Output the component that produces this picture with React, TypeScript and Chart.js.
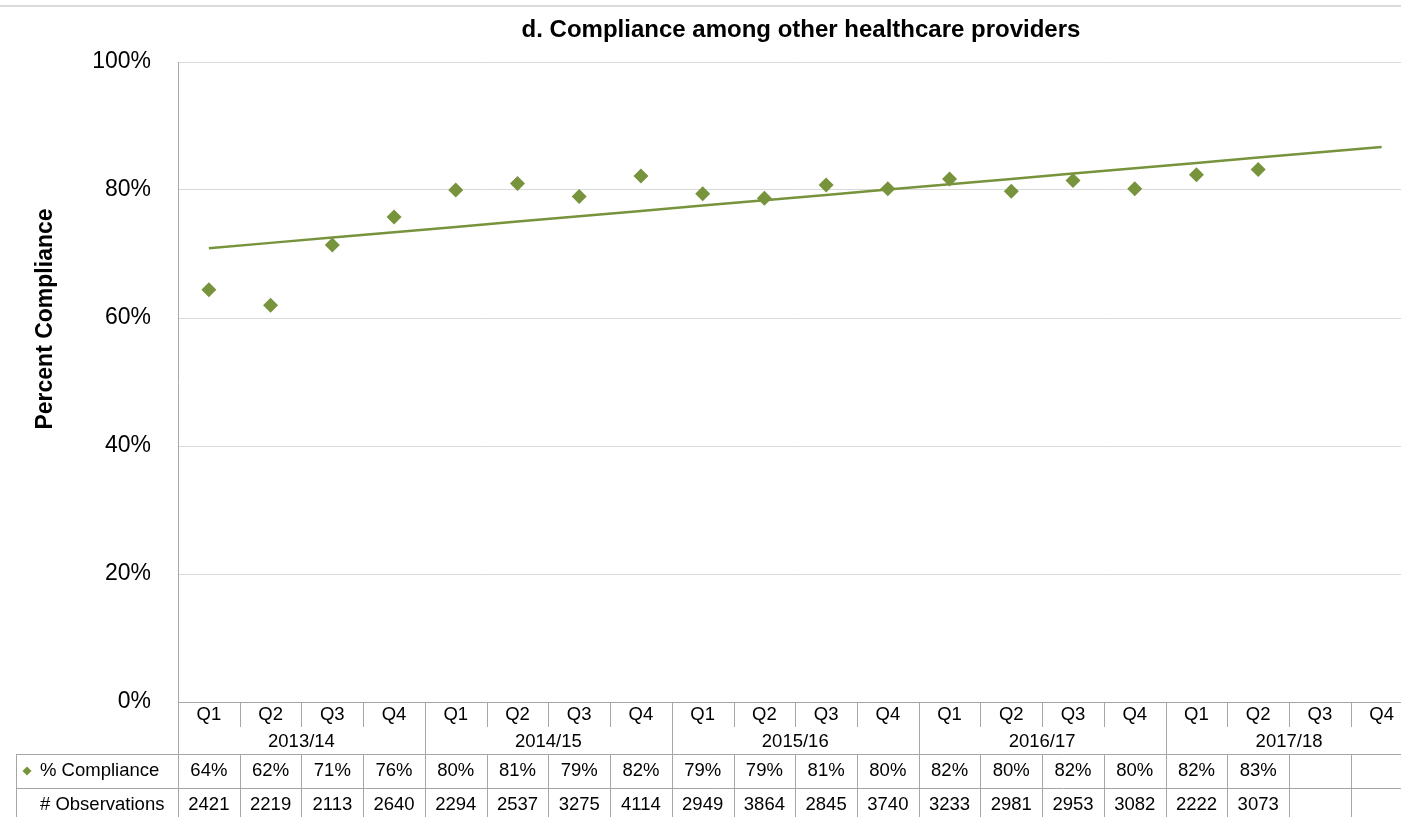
import React, { useEffect, useRef } from 'react';
import { Chart, registerables } from 'chart.js';

Chart.register(...registerables);

// ---------- data ----------
const quarters = [
  'Q1', 'Q2', 'Q3', 'Q4',
  'Q1', 'Q2', 'Q3', 'Q4',
  'Q1', 'Q2', 'Q3', 'Q4',
  'Q1', 'Q2', 'Q3', 'Q4',
  'Q1', 'Q2', 'Q3', 'Q4',
];
const fiscalYears = ['2013/14', '2014/15', '2015/16', '2016/17', '2017/18'];
const compliance: (number | null)[] = [
  64.4, 62.0, 71.4, 75.8,
  80.0, 81.0, 79.0, 82.2,
  79.4, 78.7, 80.8, 80.2,
  81.7, 79.8, 81.5, 80.2,
  82.4, 83.2, null, null,
];
const observations: (number | null)[] = [
  2421, 2219, 2113, 2640,
  2294, 2537, 3275, 4114,
  2949, 3864, 2845, 3740,
  3233, 2981, 2953, 3082,
  2222, 3073, null, null,
];
const yTickStep = 20;
const titleText = 'd. Compliance among other healthcare providers';
const yTitleText = 'Percent Compliance';
const rowLabels = ['% Compliance', '# Observations'];

// ---------- style ----------
const GREEN = '#77933c';
const FONT = '"Liberation Sans", Arial, sans-serif';
const LINE = '#a6a6a6';

function linearTrend(values: (number | null)[]): number[] {
  const pts: [number, number][] = [];
  values.forEach((v, i) => { if (v != null) pts.push([i, v]); });
  const n = pts.length;
  const mx = pts.reduce((s, p) => s + p[0], 0) / n;
  const my = pts.reduce((s, p) => s + p[1], 0) / n;
  let sxy = 0, sxx = 0;
  pts.forEach(([x, y]) => { sxy += (x - mx) * (y - my); sxx += (x - mx) * (x - mx); });
  const slope = sxy / sxx;
  const icpt = my - slope * mx;
  return values.map((_, i) => icpt + slope * i);
}

const tablePlugin = {
  id: 'tablePlugin',
  afterDraw(chart: any) {
    const ctx = chart.ctx as CanvasRenderingContext2D;
    const { left, right, bottom } = chart.chartArea;
    const n = quarters.length;
    const w = (right - left) / n;
    const a = (v: number) => Math.round(v) + 0.5;
    ctx.save();

    // top frame line
    ctx.strokeStyle = '#cfcfcf';
    ctx.lineWidth = 1.5;
    ctx.beginPath();
    ctx.moveTo(0, 6); ctx.lineTo(chart.width, 6);
    ctx.stroke();

    // table lines
    ctx.strokeStyle = LINE;
    ctx.lineWidth = 1;
    const yTop = bottom;
    const yQ = 727;
    const yH1 = 754;
    const yH2 = 788;
    const yEnd = 817;
    const xL = 16;
    ctx.beginPath();
    ctx.moveTo(left, a(yTop)); ctx.lineTo(right, a(yTop));
    ctx.moveTo(xL, a(yH1)); ctx.lineTo(right, a(yH1));
    ctx.moveTo(xL, a(yH2)); ctx.lineTo(right, a(yH2));
    ctx.moveTo(a(xL), yH1); ctx.lineTo(a(xL), yEnd);
    for (let i = 0; i <= n; i++) {
      const x = a(left + i * w);
      if (i % 4 === 0) {
        ctx.moveTo(x, yTop); ctx.lineTo(x, yEnd);
      } else {
        ctx.moveTo(x, yTop); ctx.lineTo(x, yQ);
        ctx.moveTo(x, yH1); ctx.lineTo(x, yEnd);
      }
    }
    ctx.stroke();

    // table text
    ctx.fillStyle = '#000';
    ctx.font = `18.5px ${FONT}`;
    ctx.textAlign = 'center';
    ctx.textBaseline = 'middle';
    for (let i = 0; i < n; i++) {
      const cx = left + (i + 0.5) * w;
      ctx.fillText(quarters[i], cx, 715);
      const c = compliance[i];
      if (c != null) ctx.fillText(Math.round(c) + '%', cx, 771);
      const o = observations[i];
      if (o != null) ctx.fillText(String(o), cx, 805);
    }
    fiscalYears.forEach((y, k) => {
      ctx.fillText(y, left + (k * 4 + 2) * w, 741.5);
    });
    ctx.textAlign = 'left';
    ctx.fillText(rowLabels[0], 40, 771);
    ctx.fillText(rowLabels[1], 40, 805);

    // legend diamond
    ctx.fillStyle = GREEN;
    ctx.beginPath();
    const dx = 27, dy = 771, r = 4.5;
    ctx.moveTo(dx - r, dy); ctx.lineTo(dx, dy - r); ctx.lineTo(dx + r, dy); ctx.lineTo(dx, dy + r);
    ctx.closePath();
    ctx.fill();

    // title
    ctx.fillStyle = '#000';
    ctx.textAlign = 'center';
    ctx.font = `bold 24px ${FONT}`;
    ctx.fillText(titleText, 801, 30);

    // y title
    ctx.save();
    ctx.translate(46, 319);
    ctx.rotate(-Math.PI / 2);
    ctx.font = `bold 23px ${FONT}`;
    ctx.fillText(yTitleText, 0, 0);
    ctx.restore();

    ctx.restore();
  },
};

export default function App() {
  const ref = useRef<HTMLCanvasElement | null>(null);
  useEffect(() => {
    if (!ref.current) return;
    const trend = linearTrend(compliance);
    const chart = new Chart(ref.current, {
      type: 'line',
      data: {
        labels: quarters,
        datasets: [
          {
            label: '% Compliance',
            data: compliance,
            showLine: false,
            pointStyle: 'rectRot',
            pointRadius: 7.5,
            pointHoverRadius: 7.5,
            pointBorderWidth: 0,
            pointBackgroundColor: GREEN,
            borderColor: GREEN,
            backgroundColor: GREEN,
            order: 1,
          },
          {
            label: 'Linear trend',
            data: trend,
            borderColor: GREEN,
            borderWidth: 2.5,
            pointRadius: 0,
            fill: false,
            tension: 0,
            order: 2,
          },
        ],
      },
      options: {
        responsive: false,
        animation: false,
        devicePixelRatio: 1,
        layout: { padding: { top: 62, right: 7, bottom: 115, left: 0 } },
        plugins: {
          legend: { display: false },
          title: { display: false },
          tooltip: { enabled: false },
        },
        events: [],
        scales: {
          x: { type: 'category', offset: true, display: false },
          y: {
            min: 0,
            max: 100,
            ticks: {
              stepSize: yTickStep,
              callback: (v: any) => v + '%',
              font: { family: FONT, size: 23 },
              color: '#000',
              padding: 27,
            },
            grid: { color: '#d9d9d9', drawTicks: false, lineWidth: 1 },
            border: { display: true, color: LINE, width: 1 },
            afterFit: (s: any) => { s.width = 178; },
          },
        },
      },
      plugins: [tablePlugin],
    });
    return () => chart.destroy();
  }, []);

  return (
    <div style={{ position: 'fixed', left: 0, top: 0, width: 1401, height: 817, overflow: 'hidden', background: '#fff' }}>
      <canvas ref={ref} width={1420} height={817} style={{ display: 'block' }} />
    </div>
  );
}
